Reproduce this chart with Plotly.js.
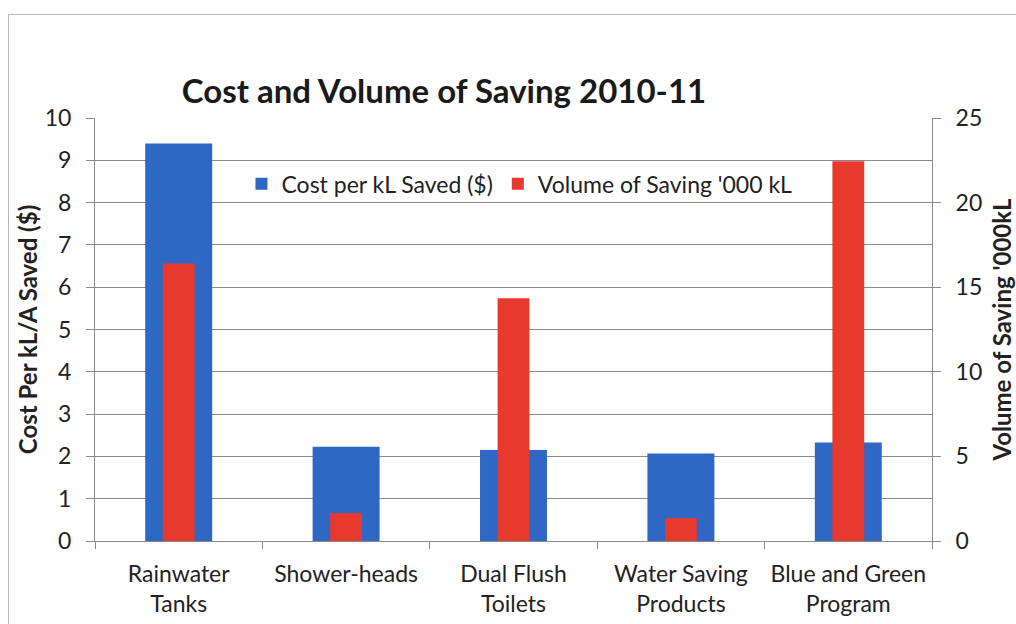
<!DOCTYPE html>
<html>
<head>
<meta charset="utf-8">
<script src="https://cdn.plot.ly/plotly-3.0.1.min.js"></script>
<style>
  html, body { margin: 0; padding: 0; background: #fff; }
  #wrap { position: relative; width: 1016px; height: 624px; }
  #chart { width: 1016px; height: 624px; }
  #frame { position: absolute; left: 8px; top: 14px; right: -2px; bottom: -2px;
           border-left: 1px solid #b8b8b8; border-top: 1px solid #b8b8b8; pointer-events: none; }
</style>
</head>
<body>
<div id="wrap">
  <div id="chart"></div>
  <div id="frame"></div>
</div>
<script>
// Water-saving programs, 2010-11
const categories = ["Rainwater<br>Tanks", "Shower-heads", "Dual Flush<br>Toilets", "Water Saving<br>Products", "Blue and Green<br>Program"];
const costPerKL = [9.4, 2.23, 2.15, 2.07, 2.33];      // $ per kL saved (left axis)
const volumeSaved = [16.4, 1.65, 14.35, 1.35, 22.45]; // '000 kL (right axis)
const leftTicks = [0, 1, 2, 3, 4, 5, 6, 7, 8, 9, 10];
const rightTicks = [0, 5, 10, 15, 20, 25];

const FONT = "Lato, 'Open Sans', sans-serif";
const TXT = "#222";
const GRID = "#8a8a8a";

const traces = [
  {
    type: "bar", name: "Cost per kL Saved ($)",
    x: categories, y: costPerKL, width: 0.4,
    marker: { color: "#2f67c4" }, yaxis: "y"
  },
  {
    type: "bar", name: "Volume of Saving '000 kL",
    x: categories, y: volumeSaved, width: 0.19,
    marker: { color: "#e8392e" }, yaxis: "y2"
  }
];

const layout = {
  width: 1016, height: 624,
  margin: { l: 95, r: 84, t: 118, b: 83 },
  paper_bgcolor: "#fff", plot_bgcolor: "#fff",
  font: { family: FONT, color: TXT, size: 23 },
  barmode: "overlay",
  showlegend: true,
  legend: {
    orientation: "h", x: 0.175, y: 0.895, xanchor: "left", yanchor: "top",
    bgcolor: "rgba(0,0,0,0)", font: { size: 23, color: TXT },
    itemwidth: 30, tracegroupgap: 0
  },
  title: {
    text: "<b>Cost and Volume of Saving 2010-11</b>",
    font: { size: 33, color: "#1a1a1a", family: FONT },
    x: 0.437, xref: "container", xanchor: "center",
    y: 0.853, yref: "container", yanchor: "middle"
  },
  xaxis: {
    type: "category",
    showline: true, linecolor: GRID, linewidth: 1,
    ticks: "outside", tickson: "boundaries", ticklen: 7, tickcolor: GRID,
    tickfont: { size: 23, color: TXT },
    ticklabelstandoff: 12,
    showgrid: false, automargin: false
  },
  yaxis: {
    range: [0, 10], tickvals: leftTicks,
    showline: true, linecolor: GRID, linewidth: 1,
    ticks: "outside", ticklen: 8, tickcolor: GRID,
    showgrid: true, gridcolor: GRID, gridwidth: 1,
    zeroline: false,
    tickfont: { size: 23, color: TXT },
    ticklabelstandoff: 10,
    title: { text: "<b>Cost Per kL/A Saved ($)</b>", font: { size: 24, color: TXT }, standoff: 0 },
    automargin: false
  },
  yaxis2: {
    range: [0, 25], tickvals: rightTicks,
    overlaying: "y", side: "right",
    showline: true, linecolor: GRID, linewidth: 1,
    ticks: "outside", ticklen: 8, tickcolor: GRID,
    showgrid: false, zeroline: false,
    tickfont: { size: 23, color: TXT },
    ticklabelstandoff: 10,
    title: { text: "<b>Volume of Saving '000kL</b>", font: { size: 24, color: TXT }, standoff: 16 },
    automargin: false
  }
};

Plotly.newPlot("chart", traces, layout, { staticPlot: true, displayModeBar: false });
</script>
</body>
</html>
